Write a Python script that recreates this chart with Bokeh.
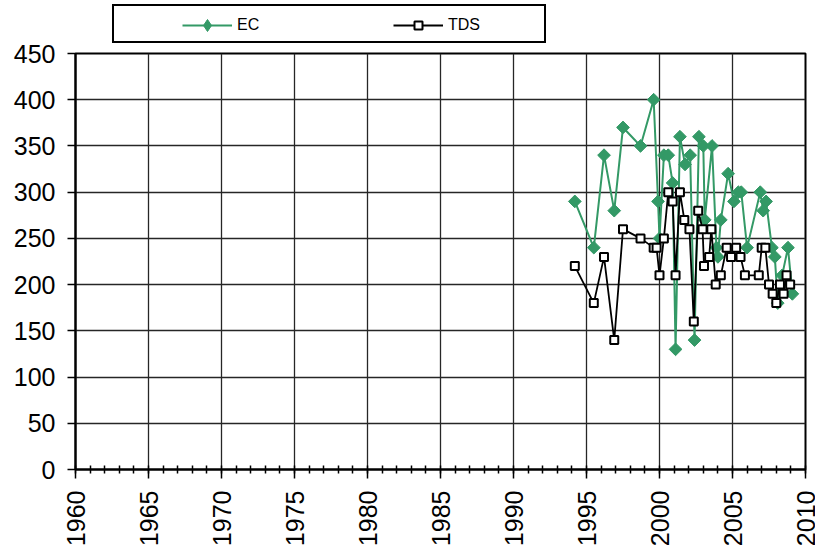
import numpy as np
from bokeh.plotting import figure
from bokeh.layouts import column
from bokeh.models import Range1d, SingleIntervalTicker, Legend, LegendItem
from bokeh.embed import file_html
from bokeh.resources import INLINE

# ---- data ----
ec_year = [1994.2, 1995.5, 1996.2, 1996.9, 1997.5, 1998.7, 1999.6, 1999.9, 2000.0, 2000.3,
           2000.6, 2000.9, 2001.1, 2001.4, 2001.75, 2002.1, 2002.4, 2002.7, 2003.0, 2003.1,
           2003.6, 2003.9, 2004.0, 2004.2, 2004.7, 2005.1, 2005.4, 2005.6, 2006.0, 2006.9,
           2007.1, 2007.3, 2007.7, 2007.9, 2008.1, 2008.4, 2008.8, 2009.1]
ec_value = [290, 240, 340, 280, 370, 350, 400, 290, 250, 340,
            340, 310, 130, 360, 330, 340, 140, 360, 350, 270,
            350, 240, 230, 270, 320, 290, 300, 300, 240, 300,
            280, 290, 240, 230, 180, 210, 240, 190]

tds_year = [1994.2, 1995.5, 1996.2, 1996.9, 1997.5, 1998.7, 1999.6, 1999.8, 2000.0, 2000.3,
            2000.6, 2000.9, 2001.1, 2001.4, 2001.7, 2002.05, 2002.35, 2002.65, 2002.95, 2003.05,
            2003.4, 2003.55, 2003.85, 2004.2, 2004.6, 2004.9, 2005.25, 2005.55, 2005.85, 2006.8,
            2007.0, 2007.25, 2007.5, 2007.75, 2008.0, 2008.25, 2008.5, 2008.7, 2008.95]
tds_value = [220, 180, 230, 140, 260, 250, 240, 240, 210, 250,
             300, 290, 210, 300, 270, 260, 160, 280, 260, 220,
             230, 260, 200, 210, 240, 230, 240, 230, 210, 210,
             240, 240, 200, 190, 180, 200, 190, 210, 200]

series_names = ["EC", "TDS"]
x_min, x_max, x_step = 1960, 2010, 5
y_min, y_max, y_step = 0, 450, 50

EC_COLOR = "#339966"
FONT = "Liberation Sans"
W = 815
TOP_H = 44

ec_line_style = dict(line_color=EC_COLOR, line_width=2)
ec_pt_style = dict(marker="square", angle=np.pi / 4, size=9,
                   fill_color=EC_COLOR, line_color=EC_COLOR, line_width=1)
tds_line_style = dict(line_color="black", line_width=1.8)
tds_pt_style = dict(marker="square", size=8, fill_color="white",
                    line_color="black", line_width=2)

# ---------------- main chart ----------------
p = figure(width=W, height=549 - TOP_H, output_backend="svg", toolbar_location=None,
           x_range=Range1d(x_min, x_max), y_range=Range1d(y_min, y_max),
           min_border_left=75, min_border_right=10, min_border_top=9, min_border_bottom=79)
p.background_fill_color = "white"
p.border_fill_color = "white"
p.outline_line_color = "black"
p.outline_line_width = 2

for g in (p.xgrid, p.ygrid):
    g.grid_line_color = "#262626"
    g.grid_line_width = 1.3

p.xaxis.ticker = SingleIntervalTicker(interval=x_step, num_minor_ticks=5)
p.xaxis.major_label_orientation = np.pi / 2
p.xaxis.major_tick_in = 0
p.xaxis.major_tick_out = 9
p.xaxis.minor_tick_in = 4
p.xaxis.minor_tick_out = 4
p.xaxis.major_label_standoff = 12

p.yaxis.ticker = SingleIntervalTicker(interval=y_step, num_minor_ticks=0)
p.yaxis.major_tick_in = 0
p.yaxis.major_tick_out = 8
p.yaxis.minor_tick_line_color = None
p.yaxis.major_label_standoff = 12

for ax in (p.xaxis, p.yaxis):
    ax.axis_line_color = "black"
    ax.axis_line_width = 2
    ax.major_tick_line_color = "black"
    ax.major_tick_line_width = 1.5
    ax.minor_tick_line_width = 1.5
    ax.major_label_text_font = FONT
    ax.major_label_text_font_size = "25px"
    ax.major_label_text_color = "black"

p.line(ec_year, ec_value, **ec_line_style)
p.scatter(ec_year, ec_value, **ec_pt_style)
p.line(tds_year, tds_value, **tds_line_style)
p.scatter(tds_year, tds_value, **tds_pt_style)

# ---------------- legend strip above the chart ----------------
top = figure(width=W, height=TOP_H, output_backend="svg", toolbar_location=None,
             x_range=Range1d(0, 1), y_range=Range1d(0, 1),
             x_axis_type=None, y_axis_type=None,
             min_border_left=0, min_border_right=0, min_border_top=0, min_border_bottom=0)
top.grid.visible = False
top.outline_line_color = None
top.background_fill_color = "white"
top.border_fill_color = "white"

# legend-key renderers: same styles as the series; their single point lies
# outside this strip's ranges, so only the legend keys are visible
k_ec_line = top.line(ec_year[:1], ec_value[:1], **ec_line_style)
k_ec_pt = top.scatter(ec_year[:1], ec_value[:1], marker="diamond", size=9,
                      fill_color=EC_COLOR, line_color=EC_COLOR, line_width=1)
k_tds_line = top.line(tds_year[:1], tds_value[:1], **tds_line_style)
k_tds_pt = top.scatter(tds_year[:1], tds_value[:1], **tds_pt_style)
k_blank = top.line(ec_year[:1], ec_value[:1], line_alpha=0)

legend_box = Legend(items=[LegendItem(label=" ", renderers=[k_blank])],
                    location=(37, 1), orientation="horizontal",
                    padding=0, margin=0, glyph_width=10, glyph_height=35,
                    label_height=35, label_width=420, label_standoff=0,
                    border_line_color="black", border_line_width=2, border_line_alpha=1,
                    background_fill_color="white", background_fill_alpha=1)
top.add_layout(legend_box)

common = dict(orientation="horizontal", padding=0, margin=0, glyph_width=50,
              label_width=20, label_standoff=5, label_text_font=FONT,
              label_text_font_size="16px", label_text_color="black",
              border_line_alpha=0, background_fill_alpha=0)

legend_ec = Legend(items=[LegendItem(label=series_names[0], renderers=[k_ec_line, k_ec_pt])],
                   location=(107, 4), glyph_height=30, label_height=30, **common)
legend_tds = Legend(items=[LegendItem(label=series_names[1], renderers=[k_tds_line, k_tds_pt])],
                    location=(318, 9), glyph_height=20, label_height=20, **common)
top.add_layout(legend_ec)
top.add_layout(legend_tds)

layout = column(top, p, spacing=0)
open("out.html", "w").write(file_html(layout, INLINE))
